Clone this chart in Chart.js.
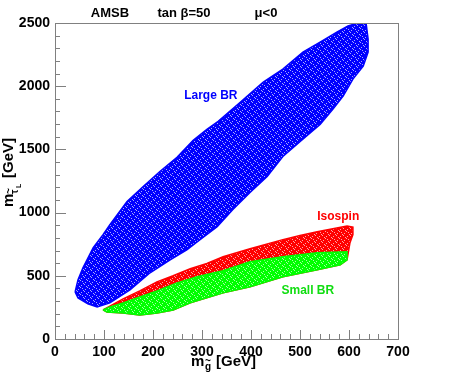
<!DOCTYPE html>
<html>
<head>
<meta charset="utf-8">
<script src="https://cdn.jsdelivr.net/npm/chart.js@4.4.1/dist/chart.umd.min.js"></script>
<style>
  html, body { margin: 0; padding: 0; background: #fff; }
  #wrap { width: 463px; height: 376px; }
</style>
</head>
<body>
<div id="wrap"><canvas id="chart" width="463" height="376"></canvas></div>
<script>
// === DATA: region outlines (m_gluino, m_stau) ===
const largeBrX = [41, 47, 57, 78, 98, 112, 147, 180, 214, 249, 282, 310, 333, 378, 425, 465, 506, 541, 576, 598, 616, 635, 639, 639, 629, 608, 588, 567, 541, 510, 465, 433, 398, 363, 331, 296, 269, 235, 194, 153, 112, 86, 67, 47];
const largeBrY = [373, 468, 563, 722, 825, 905, 1087, 1206, 1325, 1437, 1571, 1659, 1722, 1873, 2032, 2135, 2270, 2349, 2429, 2476, 2498, 2495, 2373, 2270, 2159, 2056, 1921, 1817, 1698, 1595, 1444, 1286, 1159, 1024, 889, 786, 706, 627, 524, 389, 286, 254, 278, 325];

const isospinX = [98, 139, 173, 208, 241, 276, 310, 343, 398, 465, 500, 535, 567, 596, 608, 608, 602, 596, 582, 535, 465, 398, 343, 276, 241, 208, 173, 139, 106];
const isospinY = [230, 318, 381, 452, 500, 556, 597, 651, 714, 786, 818, 849, 873, 893, 885, 825, 762, 627, 587, 548, 492, 413, 365, 286, 230, 206, 190, 206, 214];

const smallBrX = [98, 112, 139, 173, 208, 249, 290, 343, 398, 465, 535, 596, 596, 582, 535, 465, 398, 343, 276, 241, 208, 173, 139, 106];
const smallBrY = [230, 254, 286, 333, 381, 444, 492, 540, 611, 651, 683, 690, 627, 587, 548, 492, 413, 365, 286, 230, 206, 190, 206, 214];

// region labels (text, x, y in data units)
const regionLabels = [
  { text: 'Large BR', x: 318, y: 1921, color: '#0000ff' },
  { text: 'Isospin',  x: 578, y: 968,  color: '#ff0000' },
  { text: 'Small BR', x: 516, y: 381,  color: '#11dd11' }
];
const xTicks = [0, 100, 200, 300, 400, 500, 600, 700];
const yTicks = [0, 500, 1000, 1500, 2000, 2500];

// chiude il poligono
function punti(xs, ys) {
  const p = xs.map((x, i) => ({ x: x, y: ys[i] }));
  p.push({ x: xs[0], y: ys[0] });
  return p;
}

// riempimento "puntinato" per imitare lo scatter denso
function puntinato(colore) {
  const c = document.createElement('canvas');
  c.width = 7; c.height = 7;
  const g = c.getContext('2d');
  g.fillStyle = colore;
  g.fillRect(0, 0, 7, 7);
  g.fillStyle = 'rgba(255,255,255,0.65)';
  [[1, 2], [4, 5], [5, 1], [2, 6], [0, 4], [3, 0], [6, 3]].forEach(([x, y]) => g.fillRect(x, y, 1, 1));
  return g.createPattern(c, 'repeat');
}

const FONT = '"Liberation Sans", Arial, Helvetica, sans-serif';

// cornice + tacche verso l'interno (stile ROOT)
const cornice = {
  id: 'cornice',
  afterDatasetsDraw(chart) {
    const { ctx, chartArea: a, scales: { x, y } } = chart;
    ctx.save();
    ctx.strokeStyle = '#808080';
    ctx.lineWidth = 1;
    ctx.strokeRect(a.left + 0.5, a.top + 0.5, a.right - a.left, a.bottom - a.top);
    ctx.beginPath();
    for (let v = 0; v <= 700; v += 20) {
      const px = Math.round(x.getPixelForValue(v)) + 0.5;
      const len = v % 100 === 0 ? 9 : 5;
      ctx.moveTo(px, a.bottom);
      ctx.lineTo(px, a.bottom - len);
    }
    for (let v = 0; v <= 2500; v += 100) {
      const py = Math.round(y.getPixelForValue(v)) + 0.5;
      const len = v % 500 === 0 ? 11 : 5;
      ctx.moveTo(a.left, py);
      ctx.lineTo(a.left + len, py);
    }
    ctx.stroke();
    ctx.restore();
  }
};

// testi: titolo, etichette regioni, titoli assi
const testi = {
  id: 'testi',
  afterDraw(chart) {
    const { ctx, scales: { x, y } } = chart;
    ctx.save();
    ctx.textBaseline = 'alphabetic';
    ctx.fillStyle = '#000';
    ctx.font = 'bold 13px ' + FONT;
    ctx.textAlign = 'center';
    ctx.fillText('AMSB', 110, 17);
    ctx.fillText('tan \u03b2=50', 184, 17);
    ctx.fillText('\u03bc<0', 266, 17);

    ctx.font = 'bold 12px ' + FONT;
    ctx.textBaseline = 'middle';
    regionLabels.forEach(l => {
      ctx.fillStyle = l.color;
      ctx.fillText(l.text, x.getPixelForValue(l.x), y.getPixelForValue(l.y));
    });

    // titolo asse x
    ctx.fillStyle = '#000';
    ctx.textAlign = 'left';
    ctx.textBaseline = 'alphabetic';
    ctx.font = 'bold 15px ' + FONT;
    ctx.fillText('m', 191, 366);
    ctx.font = 'bold 10px ' + FONT;
    ctx.fillText('g', 205, 370);
    ctx.fillText('~', 205, 364);
    ctx.font = 'bold 15px ' + FONT;
    ctx.fillText('[GeV]', 216, 366);

    // titolo asse y (ruotato)
    ctx.translate(13, 207);
    ctx.rotate(-Math.PI / 2);
    ctx.font = 'bold 15px ' + FONT;
    ctx.fillText('m', 0, 0);
    ctx.font = 'bold 10px ' + FONT;
    ctx.fillText('\u03c4', 13, 5);
    ctx.fillText('~', 13, -1);
    ctx.font = 'bold 7px ' + FONT;
    ctx.fillText('L', 19, 8);
    ctx.font = 'bold 15px ' + FONT;
    ctx.fillText('[GeV]', 29, 0);
    ctx.restore();
  }
};

// order piu' basso = disegnato sopra
function regione(xs, ys, colore, ordine) {
  return {
    data: punti(xs, ys),
    order: ordine,
    showLine: true,
    fill: 'shape',
    tension: 0,
    pointRadius: 0,
    borderWidth: 1.5,
    borderColor: colore,
    backgroundColor: puntinato(colore)
  };
}

const etichettaTick = v => String(v);

window.addEventListener('DOMContentLoaded', () => {
  const ctx = document.getElementById('chart').getContext('2d');
  window.grafico = new Chart(ctx, {
    type: 'scatter',
    data: {
      datasets: [
        regione(largeBrX, largeBrY, '#0000ff', 2),
        regione(isospinX, isospinY, '#ff0000', 1),
        regione(smallBrX, smallBrY, '#00ff00', 0)
      ]
    },
    options: {
      responsive: false,
      animation: false,
      layout: { padding: { left: 0, right: 65, top: 23, bottom: 0 } },
      plugins: { legend: { display: false }, tooltip: { enabled: false } },
      scales: {
        x: {
          type: 'linear', min: 0, max: 700,
          afterFit: s => { s.height = 37; },
          afterBuildTicks: s => { s.ticks = xTicks.map(v => ({ value: v })); },
          grid: { display: false, drawTicks: false },
          border: { display: false },
          ticks: { color: '#000', padding: 5, callback: etichettaTick, font: { family: FONT, size: 14, weight: 'bold' } }
        },
        y: {
          type: 'linear', min: 0, max: 2500,
          afterFit: s => { s.width = 55; },
          afterBuildTicks: s => { s.ticks = yTicks.map(v => ({ value: v })); },
          grid: { display: false, drawTicks: false },
          border: { display: false },
          ticks: { color: '#000', padding: 5, callback: etichettaTick, font: { family: FONT, size: 14, weight: 'bold' } }
        }
      }
    },
    plugins: [cornice, testi]
  });
});
</script>
</body>
</html>
